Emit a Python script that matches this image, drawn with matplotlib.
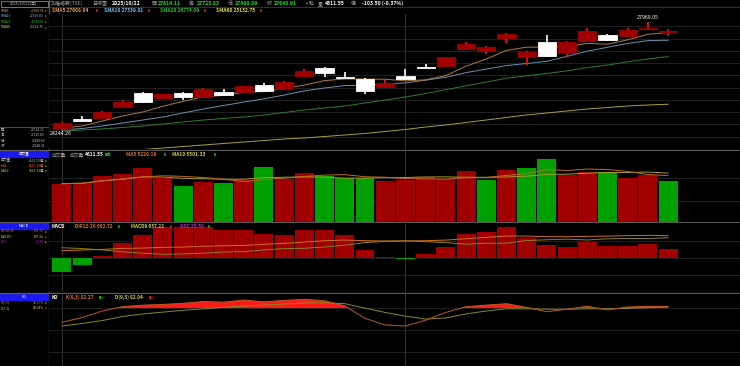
import numpy as np
import pandas as pd
import matplotlib
matplotlib.use('Agg')
import matplotlib.pyplot as plt

plt.rcParams['font.family'] = ['Noto Sans CJK TC', 'DejaVu Sans']

W, H = 740, 366

# ---- daily candles (31 sessions up to 2025/10/22) ----
opens  = [24279, 24624, 24658, 25038, 25520, 25348, 25520, 25383, 25555, 25555,
          25796, 25658, 26107, 26383, 26072, 26003, 25727, 26107, 26417, 26452,
          27038, 26969, 27417, 26762, 27279, 26900, 27314, 27521, 27486, 27730, 27614.11]
highs  = [24520, 24727, 24900, 25279, 25555, 25503, 25555, 25693, 25658, 25779,
          25865, 25917, 26348, 26400, 26245, 26021, 25969, 26348, 26520, 26779,
          27279, 27141, 27590, 26969, 27521, 27314, 27762, 27555, 27762, 27969.05, 27725.83]
lows   = [24244.26, 24537, 24641, 25020, 25176, 25331, 25279, 25365, 25434, 25520,
          25572, 25641, 26072, 26072, 26021, 25486, 25710, 25986, 26348, 26417,
          27021, 26865, 27245, 26486, 26779, 26762, 27297, 27314, 27469, 27720, 27490.89]
closes = [24486, 24555, 24865, 25210, 25210, 25486, 25383, 25658, 25451, 25762,
          25589, 25900, 26279, 26210, 26038, 25589, 25865, 26003, 26383, 26762,
          27210, 27107, 27555, 26935, 26797, 27279, 27659, 27348, 27693, 27752.41, 27648.91]

sma5  = [24313, 24382, 24555, 24727, 24865, 25065, 25231, 25389, 25438, 25548,
         25569, 25672, 25796, 25948, 26003, 26003, 25996, 25941, 25976, 26121,
         26445, 26693, 26990, 27100, 27107, 27121, 27231, 27204, 27355, 27545, 27608.04]
sma10 = [24244, 24296, 24382, 24486, 24589, 24693, 24831, 24969, 25089, 25207,
         25317, 25451, 25593, 25693, 25776, 25786, 25834, 25869, 25962, 26062,
         26224, 26345, 26466, 26538, 26614, 26783, 26962, 27097, 27228, 27328, 27339.81]
sma20 = [24210, 24244, 24279, 24331, 24382, 24451, 24520, 24589, 24641, 24693,
         24762, 24848, 24934, 25003, 25072, 25176, 25279, 25383, 25503, 25634,
         25771, 25898, 26029, 26115, 26195, 26284, 26398, 26483, 26595, 26694, 26774.09]
sma60 = [23382, 23417, 23468, 23520, 23572, 23623, 23675, 23727, 23779, 23830,
         23882, 23934, 23968, 24020, 24072, 24124, 24193, 24262, 24348, 24417,
         24503, 24589, 24675, 24762, 24831, 24900, 24969, 25020, 25072, 25107, 25132.75]

# ---- volume (億) ----
volume = [4309, 4423, 5179, 5405, 6086, 4952, 4082, 4536, 4423, 4725,
          6199, 4838, 5481, 5179, 4990, 4990, 4574, 4725, 5027, 4838,
          5746, 4763, 5859, 6086, 7069, 5254, 5594, 5594, 4990, 5330, 4611.55]
vol_dir = list("RRRRRRGRGRGRRGGGRRRRRGRGGRRGRRG")

# ---- MACD ----
dif  = [471, 480, 488, 501, 505, 514, 518, 527, 535, 539,
        552, 565, 582, 599, 607, 599, 595, 595, 599, 607,
        624, 641, 658, 658, 650, 650, 654, 658, 663, 667, 662.72]
osc  = [-37.8, -18.9, 6.6, 42.5, 66.1, 87.8, 87.8, 87.8, 80.3, 80.3,
        69.9, 66.1, 80.3, 80.3, 66.1, 23.6, 4.7, -2.8, 12.3, 33.0,
        69.9, 75.5, 89.7, 56.7, 38.7, 31.2, 46.3, 34.9, 34.9, 40.6, 25.50]
macd9 = [509, 499, 481, 458, 439, 426, 430, 439, 455, 459,
         482, 499, 502, 519, 541, 575, 590, 598, 587, 574,
         554, 566, 568, 601, 611, 619, 608, 623, 628, 626, 637.22]

# ---- KD ----
k_val = [60.6, 67.0, 76.0, 82.0, 84.0, 85.0, 86.5, 89.0, 88.0, 91.0,
         88.5, 90.5, 92.0, 90.0, 83.0, 66.0, 57.0, 55.5, 63.5, 74.0,
         82.0, 84.0, 86.0, 81.0, 75.0, 78.5, 82.5, 77.5, 81.5, 82.5, 82.27]
d_val = [55.5, 59.0, 63.0, 68.5, 72.0, 74.5, 77.0, 79.0, 81.0, 82.8,
         84.0, 85.5, 87.0, 87.3, 86.0, 80.0, 74.0, 69.0, 65.0, 66.5,
         72.0, 76.0, 79.0, 79.0, 78.5, 78.3, 79.0, 79.0, 79.5, 80.5, 82.04]

x = np.arange(len(closes))
o, hi, lo, c = map(np.array, (opens, highs, lows, closes))
up = c >= o

RED_BODY = '#a00000'
RED_WICK = '#ff1010'
GREEN = '#00a000'
GRID = '#262626'
SEP = '#5a5a5a'

fig = plt.figure(figsize=(W / 100, H / 100), dpi=100, facecolor='black')


def rect(x0, y0, x1, y1):
    return [x0 / W, 1 - y1 / H, (x1 - x0) / W, (y1 - y0) / H]


def txt(px, py, s, color, size=3.8, weight='normal', ha='left'):
    fig.text(px / W, 1 - py / H, s, color=color, fontsize=size,
             fontweight=weight, ha=ha, va='center')


def setup(ax, ylim):
    ax.set_facecolor('black')
    ax.set_xlim(-0.64, 33.56)
    ax.set_ylim(*ylim)
    ax.set_xticks([])
    ax.set_yticks([])
    for s in ax.spines.values():
        s.set_visible(False)
    for vx in (0, 17):
        ax.axvline(vx, color='#3a3a3a', lw=0.6, zorder=0)


# ---------------- price panel ----------------
ax_p = fig.add_axes(rect(49, 14, 740, 149))
setup(ax_p, (23589, 28245))
for gy in np.linspace(23589, 28245, 12)[1:-1]:
    ax_p.axhline(gy, color=GRID, lw=0.6, zorder=0)

ax_p.plot(x, sma60, color='#a8a030', lw=0.7, zorder=1)
ax_p.plot(x, sma20, color='#2e7d32', lw=0.7, zorder=1)
ax_p.plot(x, sma10, color='#6d8fae', lw=0.7, zorder=1)
ax_p.plot(x, sma5, color='#b07a40', lw=0.7, zorder=1)

wick_col = np.where(up, RED_WICK, 'white')
body_col = np.where(up, RED_BODY, 'white')
ax_p.vlines(x, lo, hi, colors=wick_col, lw=1.2, zorder=2)
ax_p.bar(x, np.maximum(np.abs(c - o), 1), bottom=np.minimum(o, c), width=0.9,
         color=body_col, edgecolor=body_col, lw=0.6, zorder=3)

imax = int(np.argmax(hi))
imin = int(np.argmin(lo))
ax_p.text(imax, hi[imax] + 60, f'{hi[imax]:.2f}', color='white', fontsize=3.8,
          ha='center', va='bottom')
ax_p.text(imin - 0.6, lo[imin] - 40, f'{lo[imin]:.2f}', color='white', fontsize=3.8,
          ha='left', va='top')

# ---------------- volume panel ----------------
ax_v = fig.add_axes(rect(49, 151, 740, 221.7))
setup(ax_v, (0, 8017))
for gy in (2300, 5000):
    ax_v.axhline(gy, color=GRID, lw=0.6, zorder=0)
vcol = [RED_BODY if d == 'R' else GREEN for d in vol_dir]
ax_v.bar(x, volume, width=0.94, color=vcol, zorder=2)
vs = pd.Series(volume)
ax_v.plot(x, vs.rolling(10, min_periods=1).mean(), color='#a89a30', lw=0.7, zorder=3)
ax_v.plot(x, vs.rolling(5, min_periods=1).mean(), color='#c06a20', lw=0.7, zorder=3)

# ---------------- MACD panel ----------------
ax_m = fig.add_axes(rect(49, 223, 740, 292))
setup(ax_m, (-95.4, 99.9))
for gy in (0, 48, -48):
    ax_m.axhline(gy, color=GRID, lw=0.6, zorder=0)
ocol = [RED_BODY if v >= 0 else GREEN for v in osc]
ax_m.bar(x, osc, width=0.94, color=ocol, zorder=2)
ax_m2 = ax_m.twinx()
ax_m2.set_ylim(-55.1, 824.6)
ax_m2.axis('off')
ax_m2.plot(x, macd9, color='#8a8020', lw=0.7)
ax_m2.plot(x, dif, color='#d07020', lw=0.7)

# ---------------- KD panel ----------------
ax_k = fig.add_axes(rect(49, 294, 740, 366))
setup(ax_k, (0.95, 99.2))
for gy in (20, 50, 80):
    ax_k.axhline(gy, color=GRID, lw=0.6, zorder=0)
ka = np.array(k_val)
ax_k.fill_between(x, 80, ka, where=ka > 80, interpolate=True, color='#ff1a1a', lw=0, zorder=1)
ax_k.plot(x, d_val, color='#8a8a20', lw=0.7, zorder=2)
ax_k.plot(x, k_val, color='#b85a20', lw=0.7, zorder=2)

# ---------------- frame / separators ----------------
ax_bg = fig.add_axes([0, 0, 1, 1], zorder=-5)
ax_bg.set_xlim(0, W)
ax_bg.set_ylim(H, 0)
ax_bg.axis('off')
ax_bg.set_facecolor('black')
for sy in (150, 222.4, 293.3):
    ax_bg.axhline(sy, color=SEP, lw=0.9)
ax_bg.plot([49, W], [7, 7], color='#3a3a3a', lw=0.6)
ax_bg.plot([0, 48], [126.5, 126.5], color=SEP, lw=0.6)
ax_bg.axvline(48.5, color=SEP, lw=0.9)
ax_bg.add_patch(plt.Rectangle((0.5, 0.5), 47, 6.5, fill=False, ec='#8a8a8a', lw=0.6))
for by, lab in ((151, '成交量'), (222.8, 'MACD'), (293.8, 'KD')):
    ax_bg.add_patch(plt.Rectangle((0, by), 48, 6, color='#1a1aee'))
    txt(24, by + 3, lab, 'white', 2.6, ha='center')

# ---------------- header texts ----------------
txt(24, 3.6, '2025/10/22(三)', '#d0d0d0', 2.8, ha='center')
txt(51, 3.6, '加權指數(TSE)', '#a0a0a0', 3.6)
txt(92, 3.6, '日線圖', '#a0a0a0', 3.6)
txt(112, 3.6, '2025/10/22', 'white', 3.7, 'bold')
for xl, lab, xv, val in ((151, '開', 158, '27614.11'), (189, '高', 197, '27725.83'),
                         (228, '低', 235, '27490.89'), (267, '收', 274, '27648.91')):
    txt(xl, 3.6, lab, '#a0a0a0', 3.6)
    txt(xv, 3.6, val, '#20e020', 3.7, 'bold')
txt(304, 3.6, '▪', '#e0e0e0', 3.0)
txt(309, 3.6, '點', '#a0a0a0', 3.6)
txt(318, 3.6, '量', '#a0a0a0', 3.6)
txt(325, 3.6, '4611.55', 'white', 3.7, 'bold')
txt(351, 3.6, '億', '#a0a0a0', 3.6)
txt(362, 3.6, '-103.50 (-0.37%)', 'white', 3.7, 'bold')

sma_info = (('SMA5', '27608.04', '#e0a050', 52), ('SMA10', '27339.81', '#80b8f0', 104),
            ('SMA20', '26774.09', '#30c030', 160), ('SMA60', '25132.75', '#e0e040', 216))
for i, (name, val, col, xx) in enumerate(sma_info):
    txt(xx, 11, f'{name} {val}', col, 3.5, 'bold')
    txt(xx + 44, 11, '▮', '#ff2020', 2.6)
    txt(1, 10.7 + i * 5.6, name, col, 2.4)
    txt(44, 10.7 + i * 5.6, val, col, 2.4, ha='right')
    txt(44.5, 10.7 + i * 5.6, '▮', '#ff2020', 2.0)

for i, (lab, val) in enumerate((('開', '27614.11'), ('高', '27725.83'),
                                ('低', '27490.89'), ('收', '27648.91'))):
    txt(1, 130 + i * 5.3, lab, '#c0c0c0', 2.5)
    txt(45, 130 + i * 5.3, val, '#c0c0c0', 2.4, ha='right')

# volume texts
txt(52, 155, '成交量', '#a0a0a0', 3.4)
txt(70, 155, '成交量', '#a0a0a0', 3.4)
txt(85, 155, '4611.55', 'white', 3.5, 'bold')
txt(105, 155, '▮億', '#20d020', 3.0)
txt(126, 155, 'MA5 5220.19', '#e07030', 3.5, 'bold')
txt(164, 155, '▮', '#20d020', 2.6)
txt(172, 155, 'MA10 5501.33', '#d0d040', 3.5, 'bold')
txt(214, 155, '▮', '#20d020', 2.6)
for i, (lab, val, col) in enumerate((('成交量', '4611.55億', '#c0c0c0'),
                                     ('MA5', '5220.19億', '#e07030'),
                                     ('MA10', '5501.33億', '#d0d040'))):
    txt(1, 160.5 + i * 5.3, lab, col, 2.4)
    txt(44, 160.5 + i * 5.3, val, col, 2.4, ha='right')
    txt(44.5, 160.5 + i * 5.3, '▮', '#20d020', 2.0)

# MACD texts
txt(52, 226.5, 'MACD', 'white', 3.4, 'bold')
txt(75, 226.5, 'DIF12-26 662.72', '#e07030', 3.4, 'bold')
txt(118, 226.5, '▮', '#20d020', 2.6)
txt(131, 226.5, 'MACD9 637.22', '#d0d040', 3.4, 'bold')
txt(170, 226.5, '▮', '#ff2020', 2.6)
txt(180, 226.5, 'OSC 25.50', '#c030c0', 3.4, 'bold')
txt(208, 226.5, '▮', '#20d020', 2.6)
for i, (lab, val, col, mk) in enumerate((('DIF12-26', '662.72', '#e07030', '#20d020'),
                                         ('MACD9', '637.22', '#d0d040', '#ff2020'),
                                         ('OSC', '25.50', '#c030c0', '#20d020'))):
    txt(1, 231.5 + i * 5.2, lab, col, 2.4)
    txt(44, 231.5 + i * 5.2, val, col, 2.4, ha='right')
    txt(44.5, 231.5 + i * 5.2, '▮', mk, 2.0)

# KD texts
txt(52, 297.5, 'KD', 'white', 3.4, 'bold')
txt(66, 297.5, 'K(9,3) 82.27', '#e07030', 3.4, 'bold')
txt(99, 297.5, '▮%', '#20d020', 3.0)
txt(115, 297.5, 'D(9,3) 82.04', '#d0d040', 3.4, 'bold')
txt(149, 297.5, '▮%', '#ff2020', 3.0)
for i, (lab, val, col, mk) in enumerate((('K(9,3)', '82.27%', '#e07030', '#20d020'),
                                         ('D(9,3)', '82.04%', '#d0d040', '#ff2020'))):
    txt(1, 302.5 + i * 5.3, lab, col, 2.4)
    txt(44, 302.5 + i * 5.3, val, col, 2.4, ha='right')
    txt(44.5, 302.5 + i * 5.3, '▮', mk, 2.0)

fig.savefig('out.png', dpi=100, facecolor='black')
